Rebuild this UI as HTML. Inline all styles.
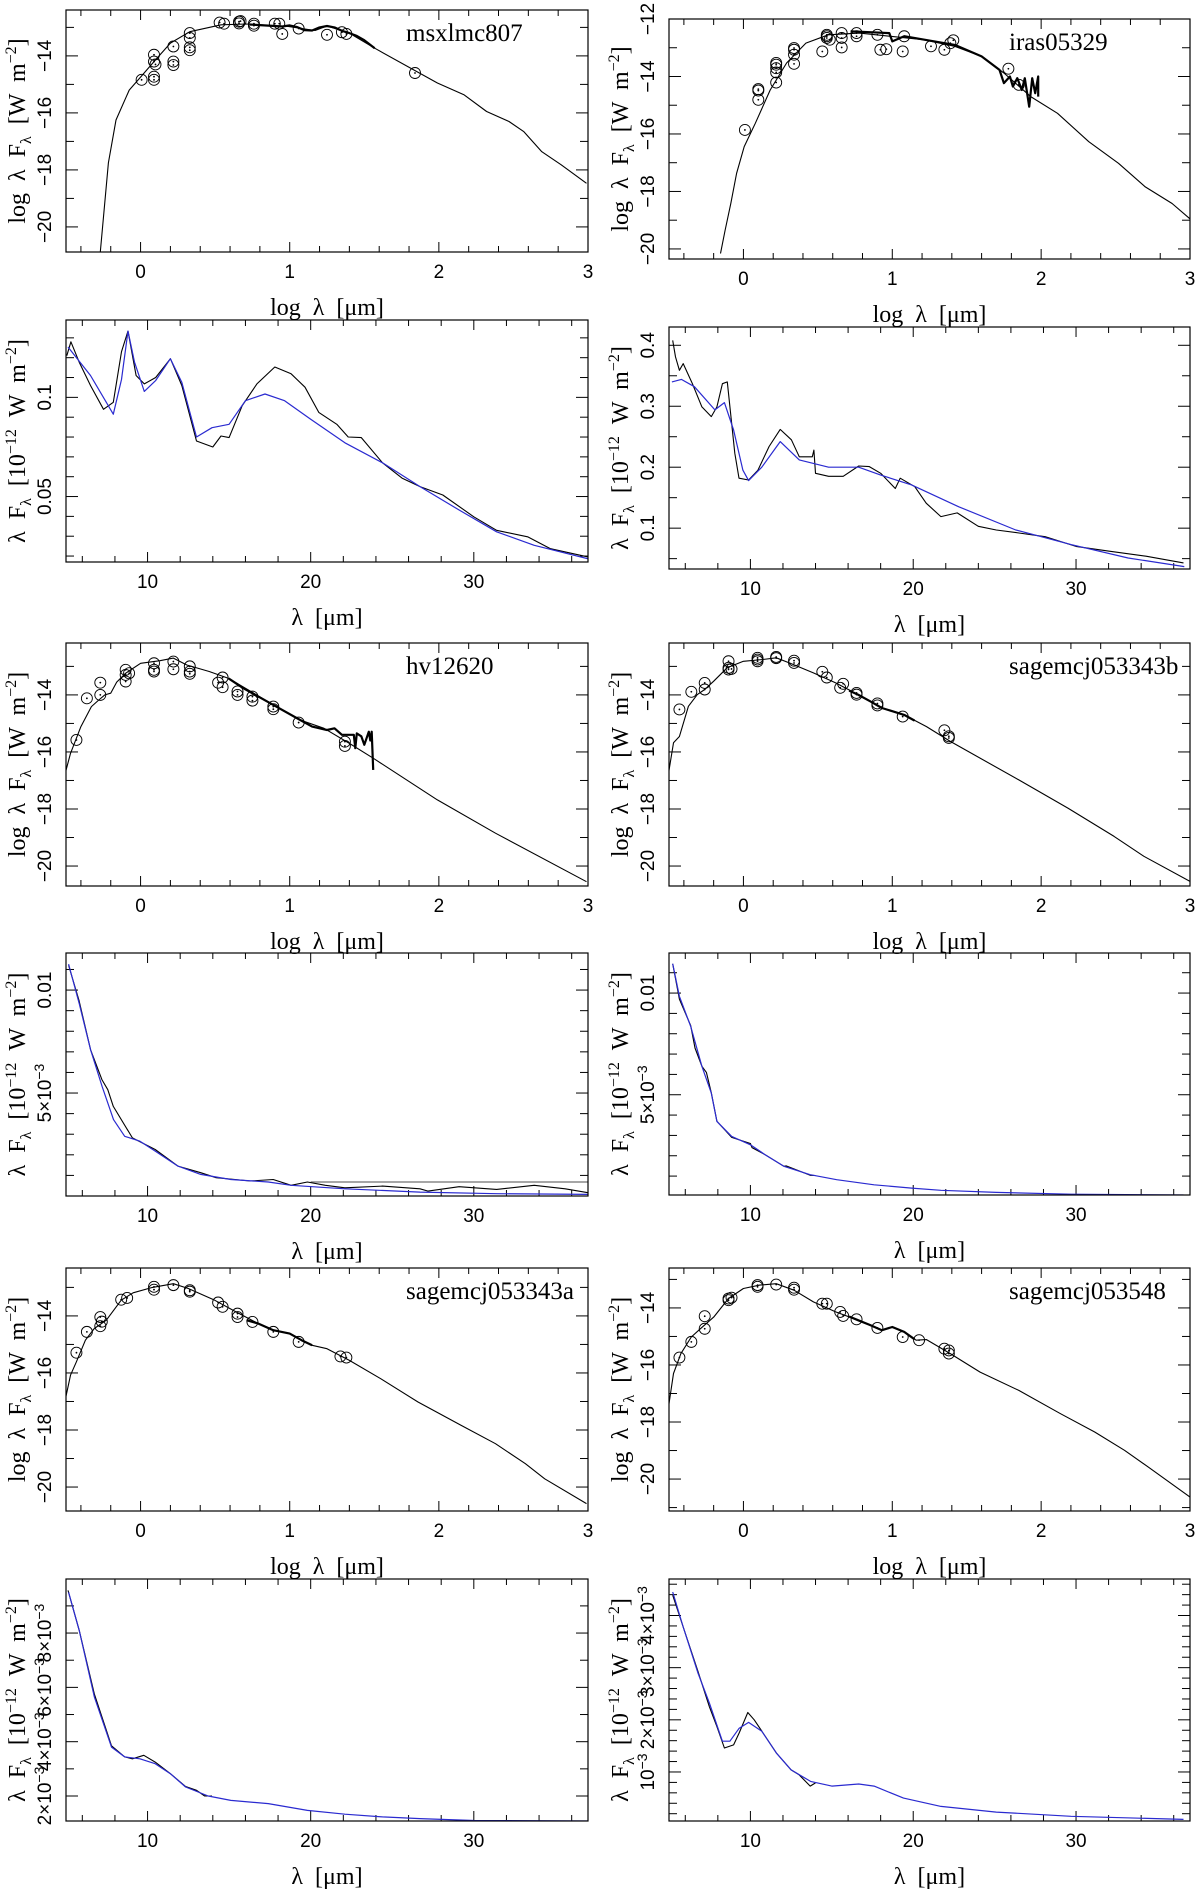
<!DOCTYPE html>
<html><head><meta charset="utf-8"><title>SED fits</title>
<style>
html,body{margin:0;padding:0;background:#fff;}
svg{display:block;}
text{fill:#000;}
.tk{font-family:"Liberation Sans",sans-serif;font-size:19px;}
.tt{font-family:"Liberation Serif",serif;font-size:24px;word-spacing:6px;}
.nm{font-family:"Liberation Serif",serif;font-size:25px;}
</style></head>
<body>
<svg id="fig" width="1200" height="1890" viewBox="0 0 1200 1890" xmlns="http://www.w3.org/2000/svg"></svg>
<script>
// ---------- Panel 1: msxlmc807 SED ----------
const p1ModelX=[-0.27,-0.216,-0.165,-0.076,0.004,0.10,0.20,0.33,0.54,0.71,0.99,1.17,1.25,1.40,1.57,1.99,2.17,2.32,2.47,2.57,2.69,2.82,2.99];
const p1ModelY=[-20.88,-17.75,-16.25,-15.2,-14.72,-14.14,-13.55,-13.15,-12.91,-12.88,-12.97,-13.11,-12.95,-13.2,-13.73,-14.95,-15.37,-15.95,-16.3,-16.66,-17.36,-17.82,-18.47];
const p1SpecX=[0.73,0.8,0.9,0.95,1.0,1.05,1.1,1.15,1.2,1.25,1.3,1.35,1.4,1.45,1.5,1.57];
const p1SpecY=[-12.9,-12.92,-12.95,-12.97,-12.93,-12.99,-13.1,-13.11,-13.0,-12.95,-13.0,-13.12,-13.2,-13.3,-13.45,-13.73];
const p1PtX=[0.007,0.09,0.09,0.09,0.09,0.10,0.22,0.22,0.22,0.33,0.33,0.33,0.33,0.53,0.56,0.66,0.66,0.67,0.76,0.76,0.90,0.93,0.95,1.06,1.25,1.35,1.38,1.84];
const p1PtY=[-14.84,-13.96,-14.2,-14.73,-14.84,-14.3,-13.67,-14.2,-14.32,-13.2,-13.37,-13.7,-13.8,-12.83,-12.87,-12.8,-12.86,-12.78,-12.87,-12.94,-12.87,-12.87,-13.23,-13.04,-13.26,-13.17,-13.23,-14.6];
// ---------- Panel 2: iras05329 SED ----------
const p2ModelX=[-0.154,-0.123,-0.085,-0.046,0.005,0.08,0.18,0.29,0.42,0.57,0.78,0.98,1.21,1.42,1.6,1.75,1.93,2.11,2.32,2.52,2.70,2.88,3.01];
const p2ModelY=[-20.16,-19.35,-18.42,-17.37,-16.44,-15.63,-14.47,-13.53,-12.84,-12.55,-12.49,-12.6,-12.72,-12.95,-13.3,-13.88,-14.7,-15.28,-16.27,-17.02,-17.84,-18.42,-19.0];
const p2SpecX=[0.72,0.85,0.98,1.0,1.08,1.24,1.42,1.6,1.72,1.75,1.79,1.81,1.84,1.87,1.89,1.92,1.94,1.96,1.98,1.98];
const p2SpecY=[-12.43,-12.46,-12.49,-12.78,-12.6,-12.74,-12.9,-13.3,-13.77,-14.23,-14.0,-14.35,-14.06,-14.47,-14.06,-15.05,-14.06,-14.58,-14.0,-14.7];
const p2PtX=[0.01,0.10,0.10,0.10,0.22,0.22,0.22,0.22,0.22,0.34,0.34,0.34,0.34,0.53,0.56,0.56,0.56,0.58,0.66,0.66,0.66,0.76,0.76,0.90,0.92,0.96,1.07,1.08,1.26,1.35,1.39,1.41,1.78,1.85];
const p2PtY=[-15.86,-14.44,-14.49,-14.81,-13.53,-13.59,-13.71,-13.86,-14.21,-13.01,-13.07,-13.24,-13.56,-13.13,-12.55,-12.6,-12.66,-12.72,-12.49,-12.66,-12.99,-12.49,-12.6,-12.55,-13.07,-13.05,-13.13,-12.6,-12.95,-13.07,-12.84,-12.74,-13.73,-14.29];
// ---------- Panel 3: msxlmc807 spectrum ----------
const p3ModelX=[5.12,6.5,7.9,8.4,8.8,9.2,9.8,10.5,11.4,12.1,13.0,13.95,15.0,16.0,17.2,18.4,20.0,22.1,24.4,26.7,29.1,31.4,33.7,37];
const p3ModelY=[0.1254,0.111,0.0915,0.109,0.1334,0.1178,0.103,0.1085,0.1195,0.1076,0.080,0.0847,0.0864,0.0983,0.1017,0.0983,0.089,0.0771,0.067,0.055,0.0432,0.0322,0.0254,0.0186];
const p3SpecX=[5.05,5.3,5.8,6.5,7.3,7.9,8.4,8.8,9.3,9.8,10.5,11.4,12.1,13.0,14.0,14.5,15.0,15.8,16.7,17.8,18.8,19.65,20.5,21.6,22.3,23.1,24.4,25.6,26.7,28.1,30,31.4,33.3,34.7,37];
const p3SpecY=[0.121,0.128,0.118,0.106,0.094,0.0975,0.123,0.1334,0.111,0.1068,0.110,0.1195,0.106,0.078,0.075,0.0805,0.0797,0.0958,0.1068,0.1153,0.1119,0.1051,0.0924,0.0864,0.080,0.0797,0.067,0.0593,0.055,0.0508,0.0398,0.033,0.0297,0.0237,0.0195];
// ---------- Panel 4: iras05329 spectrum ----------
const p4ModelX=[5.18,5.76,6.56,7.82,8.4,8.97,9.54,9.89,10.7,11.83,13.0,14.8,16.65,18.0,19.9,22.8,26.3,29.7,33.2,36.65];
const p4ModelY=[0.34,0.344,0.332,0.294,0.306,0.261,0.195,0.178,0.20,0.242,0.212,0.20,0.20,0.187,0.171,0.135,0.097,0.073,0.051,0.037];
const p4SpecX=[5.23,5.4,5.64,5.87,6.44,7.02,7.6,7.94,8.28,8.58,9.04,9.3,9.89,10.46,11.15,11.83,12.52,13.0,13.8,13.9,14.0,14.8,15.7,16.65,17.3,18.0,18.9,19.2,20.1,20.8,21.7,22.7,24.0,25.1,26.5,28.1,30,32.1,34.3,36.6];
const p4SpecY=[0.408,0.381,0.359,0.37,0.337,0.299,0.283,0.299,0.337,0.34,0.223,0.182,0.179,0.195,0.234,0.262,0.245,0.217,0.217,0.228,0.19,0.185,0.185,0.202,0.201,0.19,0.165,0.182,0.168,0.141,0.119,0.125,0.103,0.097,0.092,0.086,0.07,0.062,0.054,0.043];
// ---------- Panel 5: hv12620 SED ----------
const p5ModelX=[-0.52,-0.47,-0.40,-0.33,-0.28,-0.24,-0.2,-0.16,-0.10,0,0.13,0.22,0.31,0.46,0.59,0.74,0.89,1.07,1.23,1.40,1.56,1.99,2.38,2.99];
const p5ModelY=[-17.04,-16.05,-15.11,-14.41,-14.18,-14.0,-13.94,-13.55,-13.24,-12.89,-12.8,-12.71,-12.95,-13.18,-13.42,-13.88,-14.35,-14.88,-15.17,-15.7,-16.22,-17.68,-18.85,-20.55];
const p5SpecX=[0.59,0.69,0.89,1.07,1.15,1.25,1.3,1.35,1.43,1.44,1.45,1.48,1.5,1.53,1.54,1.55,1.56];
const p5SpecY=[-13.42,-13.77,-14.35,-14.88,-15.11,-15.23,-15.17,-15.4,-15.4,-15.87,-15.35,-15.45,-15.75,-15.29,-15.6,-15.29,-16.63];
const p5PtX=[-0.43,-0.36,-0.27,-0.27,-0.10,-0.10,-0.10,-0.077,0.09,0.09,0.09,0.22,0.22,0.33,0.33,0.33,0.52,0.55,0.55,0.65,0.65,0.75,0.75,0.89,0.89,1.06,1.37,1.37];
const p5PtY=[-15.58,-14.12,-13.57,-14.0,-13.12,-13.3,-13.53,-13.24,-12.89,-13.12,-13.18,-12.83,-13.1,-13.0,-13.18,-13.26,-13.57,-13.39,-13.73,-13.88,-14.0,-14.06,-14.2,-14.41,-14.5,-14.97,-15.64,-15.79];
// ---------- Panel 6: sagemcj053343b SED ----------
const p6ModelX=[-0.51,-0.47,-0.43,-0.37,-0.31,-0.26,-0.2,-0.11,0,0.13,0.22,0.31,0.47,0.62,0.77,0.93,1.08,1.23,1.39,1.85,2.18,2.49,2.69,3.0];
const p6ModelY=[-16.97,-15.68,-15.46,-14.4,-13.99,-13.81,-13.52,-13.05,-12.82,-12.76,-12.7,-12.88,-13.23,-13.58,-13.99,-14.46,-14.7,-15.11,-15.63,-16.98,-17.97,-18.96,-19.66,-20.54];
const p6SpecX=[0.71,0.77,0.85,0.93,1.0,1.08,1.15];
const p6SpecY=[-13.85,-13.99,-14.22,-14.46,-14.57,-14.7,-14.9];
const p6PtX=[-0.43,-0.35,-0.26,-0.26,-0.1,-0.1,-0.1,-0.08,0.095,0.095,0.095,0.22,0.22,0.34,0.34,0.53,0.56,0.65,0.67,0.76,0.76,0.9,0.9,1.07,1.35,1.38,1.38];
const p6PtY=[-14.51,-13.89,-13.58,-13.81,-12.82,-13.05,-13.11,-13.09,-12.7,-12.76,-12.82,-12.67,-12.71,-12.8,-12.88,-13.19,-13.39,-13.75,-13.61,-13.93,-13.99,-14.3,-14.37,-14.76,-15.24,-15.45,-15.51];
// ---------- Panel 7: hv12620 spectrum ----------
const p7ModelX=[5.16,5.81,6.51,7.21,7.91,8.6,9.53,10.47,11.86,13.26,15.1,17.4,18.8,22.1,26.7,31.4,37];
const p7ModelY=[0.01126,0.00935,0.0071,0.00532,0.00371,0.0029,0.00266,0.00218,0.00145,0.00105,0.0008,0.00068,0.00052,0.00035,0.00019,0.00011,0.00008];
const p7SpecX=[5.16,5.8,6.51,7.2,7.56,7.9,9.07,10.47,11.86,13.26,14.2,16.3,17.7,18.8,19.8,20.9,22.1,24.4,26.7,27.2,29.1,31.4,33.7,35.6,37];
const p7SpecY=[0.0112,0.0095,0.0071,0.00565,0.00516,0.00435,0.00282,0.00226,0.00145,0.00113,0.00089,0.00073,0.0008,0.00052,0.00068,0.00052,0.0004,0.00048,0.00035,0.00024,0.00045,0.00032,0.00052,0.00035,0.00016];
const p7RefX=[20,37];
const p7RefY=[0.00068,0.00068];
// ---------- Panel 8: sagemcj053343b spectrum ----------
const p8ModelX=[5.23,5.64,6.33,7.02,7.6,7.94,8.85,10,10.9,12.06,13.67,15.3,17.6,19.9,21.7,25.1,29.7,36.6];
const p8ModelY=[0.01144,0.00984,0.00836,0.0064,0.00508,0.00369,0.00295,0.00254,0.00205,0.00148,0.00107,0.00082,0.00057,0.00041,0.0003,0.0002,0.00011,0.00007];
const p8SpecX=[5.23,5.64,6.33,6.6,7.02,7.3,7.6,7.94,8.85,10,10.1,10.9,12.06,12.2,13.67,14.0];
const p8SpecY=[0.01144,0.0097,0.0084,0.0073,0.0064,0.0061,0.0051,0.0037,0.0029,0.0026,0.0024,0.00205,0.00148,0.0015,0.00104,0.00103];
// ---------- Panel 9: sagemcj053343a SED ----------
const p9ModelX=[-0.52,-0.47,-0.43,-0.37,-0.31,-0.23,-0.13,-0.05,0.08,0.22,0.32,0.49,0.64,0.79,0.89,1.0,1.15,1.25,1.4,1.61,1.86,2.15,2.38,2.58,2.71,2.99];
const p9ModelY=[-17.31,-16.08,-15.61,-14.85,-14.44,-14.15,-13.45,-13.19,-13.0,-12.87,-13.04,-13.43,-13.86,-14.27,-14.5,-14.62,-15.03,-15.15,-15.56,-16.2,-17.02,-17.84,-18.48,-19.18,-19.71,-20.58];
const p9SpecX=[0.71,0.79,0.89,1.0,1.08,1.15];
const p9SpecY=[-14.15,-14.27,-14.5,-14.62,-14.85,-15.03];
const p9PtX=[-0.43,-0.36,-0.27,-0.27,-0.26,-0.13,-0.09,0.09,0.09,0.22,0.33,0.33,0.52,0.55,0.65,0.65,0.75,0.89,1.06,1.34,1.38];
const p9PtY=[-15.29,-14.56,-14.04,-14.36,-14.2,-13.43,-13.37,-12.98,-13.08,-12.92,-13.1,-13.15,-13.53,-13.68,-13.92,-14.04,-14.21,-14.56,-14.91,-15.42,-15.46];
// ---------- Panel 10: sagemcj053548 SED ----------
const p10ModelX=[-0.51,-0.47,-0.42,-0.35,-0.29,-0.2,-0.1,0,0.11,0.22,0.34,0.47,0.62,0.77,0.93,1.0,1.08,1.16,1.23,1.39,1.59,1.85,2.13,2.36,2.56,2.72,3.0];
const p10ModelY=[-17.71,-16.3,-15.6,-15.02,-14.73,-14.32,-13.67,-13.32,-13.2,-13.15,-13.38,-13.79,-14.14,-14.43,-14.78,-14.67,-14.84,-15.13,-15.11,-15.6,-16.25,-16.89,-17.71,-18.35,-18.99,-19.58,-20.63];
const p10SpecX=[0.71,0.77,0.85,0.93,1.0,1.08,1.15];
const p10SpecY=[-14.3,-14.43,-14.6,-14.78,-14.67,-14.84,-15.1];
const p10PtX=[-0.43,-0.35,-0.26,-0.26,-0.1,-0.1,-0.08,0.095,0.095,0.22,0.34,0.34,0.53,0.56,0.65,0.67,0.76,0.9,1.07,1.18,1.35,1.38,1.38];
const p10PtY=[-15.74,-15.19,-14.29,-14.73,-13.67,-13.73,-13.64,-13.2,-13.26,-13.18,-13.29,-13.36,-13.85,-13.85,-14.14,-14.28,-14.4,-14.7,-15.02,-15.13,-15.43,-15.49,-15.6];
// ---------- Panel 11: sagemcj053343a spectrum ----------
const p11ModelX=[5.16,5.81,6.74,7.79,8.6,9.53,10.47,11.4,12.33,13.72,15.1,17.4,19.8,22.1,24.4,26.7,30,37];
const p11ModelY=[0.0095,0.0081,0.00564,0.0038,0.00344,0.00337,0.00319,0.00282,0.00233,0.002,0.00184,0.00172,0.00147,0.00133,0.00123,0.00117,0.0011,0.00108];
const p11SpecX=[5.12,5.81,6.74,7.79,8.6,9.07,9.77,10.47,11.4,12.33,13.0,13.5,13.95];
const p11SpecY=[0.00957,0.0081,0.00575,0.00385,0.00344,0.00337,0.0035,0.00325,0.00282,0.00235,0.00221,0.002,0.002];
// ---------- Panel 12: sagemcj053548 spectrum ----------
const p12ModelX=[5.23,5.87,6.79,7.48,8.28,8.74,9.31,9.89,10.7,11.6,12.5,13.7,15.0,16.65,17.6,19.4,21.7,25.1,29.7,36.6];
const p12ModelY=[0.00445,0.00378,0.00289,0.00232,0.00159,0.00159,0.00184,0.00195,0.00178,0.00136,0.00104,0.00082,0.00073,0.00077,0.00073,0.0005,0.00034,0.00023,0.00015,0.00009];
const p12SpecX=[5.23,5.87,6.79,7.48,7.94,8.4,8.97,9.31,9.84,10.23,10.92,11.6,12.5,12.98,13.67,14.0];
const p12SpecY=[0.00439,0.00378,0.00292,0.00225,0.00187,0.00146,0.00152,0.00175,0.00214,0.002,0.00168,0.00136,0.00104,0.00095,0.00073,0.00079];
// ---------- axis tick values ----------
const sedXTicks=[0,1,2,3];
const sedYTicks=[-20,-18,-16,-14,-12];
const specXTicks=[10,20,30];
const p3YTicks=[0.05,0.1];
const p4YTicks=[0.1,0.2,0.3,0.4];
const p7YTicks=[0.005,0.01];
const p7YLabels=["5×10|−3","0.01"];
const p11YTicks=[0.002,0.004,0.006,0.008];
const p11YLabels=["2×10|−3","4×10|−3","6×10|−3","8×10|−3"];
const p12YTicks=[0.001,0.002,0.003,0.004];
const p12YLabels=["10|−3","2×10|−3","3×10|−3","4×10|−3"];

const NS="http://www.w3.org/2000/svg";
const svg=document.getElementById('fig');
function el(tag,attrs,parent){const e=document.createElementNS(NS,tag);for(const k in attrs)e.setAttribute(k,attrs[k]);(parent||svg).appendChild(e);return e;}

const COLS=[{x0:66,x1:588},{x0:669,x1:1190}];
let clipN=0;

function drawPanel(cfg){
  const c=COLS[cfg.col];
  const g=el('g',{});
  
  
  const sx=v=>c.x0+(v-cfg.xmin)/(cfg.xmax-cfg.xmin)*(c.x1-c.x0);
  const sy=v=>cfg.bot-(v-cfg.ymin)/(cfg.ymax-cfg.ymin)*(cfg.bot-cfg.top);
  const cid='clip'+(clipN++);
  const cp=el('clipPath',{id:cid},g);
  el('rect',{x:c.x0,y:cfg.top,width:c.x1-c.x0,height:cfg.bot-cfg.top},cp);
  const tg=el('g',{stroke:'#000','stroke-width':1},g);
  
  
  const xs=Math.ceil(cfg.xmin/cfg.xminor-1e-9);
  for(let i=xs;i*cfg.xminor<=cfg.xmax+1e-9;i++){
    const v=i*cfg.xminor;const major=Math.abs(v/cfg.xmajor-Math.round(v/cfg.xmajor))<1e-6;
    const L=major?10:6;const X=sx(v);
    el('line',{x1:X,x2:X,y1:cfg.bot,y2:cfg.bot-L},tg);
    el('line',{x1:X,x2:X,y1:cfg.top,y2:cfg.top+L},tg);
  }
  const ys=Math.ceil(cfg.ymin/cfg.yminor-1e-9);
  for(let i=ys;i*cfg.yminor<=cfg.ymax+1e-9;i++){
    const v=i*cfg.yminor;const major=cfg.yticks.some(t=>Math.abs(t-v)<cfg.yminor*0.01);
    const L=major?12:8;const Y=sy(v);
    el('line',{x1:c.x0,x2:c.x0+L,y1:Y,y2:Y},tg);
    el('line',{x1:c.x1,x2:c.x1-L,y1:Y,y2:Y},tg);
  }
  const cg=el('g',{'clip-path':'url(#'+cid+')',fill:'none'},g);
  function line(xa,ya,name,stroke,w){
    let d='';for(let i=0;i<xa.length;i++)d+=(i?'L':'M')+sx(xa[i]).toFixed(1)+','+sy(ya[i]).toFixed(1);
    const p=el('path',{d:d,stroke:stroke,'stroke-width':w,'stroke-linejoin':'round'},cg);
    
    
  }
  if(cfg.refX) line(cfg.refX,cfg.refY,'reference-line','#888',1.5);
  if(cfg.type==='sed'){
    line(cfg.modelX,cfg.modelY,'model-sed-curve','#000',1.1);
    line(cfg.specX,cfg.specY,'observed-spectrum','#000',2.2);
  } else {
    line(cfg.specX,cfg.specY,'observed-spectrum','#000',1.1);
    line(cfg.modelX,cfg.modelY,'model-spectrum','#2a2ad0',1.2);
  }
  if(cfg.ptX){
    for(let i=0;i<cfg.ptX.length;i++){
      const cx=sx(cfg.ptX[i]),cy=sy(cfg.ptY[i]);
      const ci=el('circle',{cx:cx,cy:cy,r:5.5,fill:'none',stroke:'#000','stroke-width':0.9},cg);
      
      
      el('circle',{cx:cx,cy:cy,r:0.9,fill:'#000'},cg);
    }
  }
  const fr=el('rect',{x:c.x0,y:cfg.top,width:c.x1-c.x0,height:cfg.bot-cfg.top,fill:'none',stroke:'#000','stroke-width':1.2},g);
  
  
  for(const v of cfg.xticks){
    const t=el('text',{x:sx(v),y:cfg.bot+26,'text-anchor':'middle',class:'tk'},g);
    t.textContent=String(v);
    
    
  }
  cfg.yticks.forEach((v,i)=>{
    const Y=sy(v),X=c.x0-15;
    const t=el('text',{x:X,y:Y,'text-anchor':'middle',class:'tk',transform:'rotate(-90 '+X+' '+Y+')'},g);
    
    
    const lab=cfg.ylabels?cfg.ylabels[i]:(v<0?'−'+(-v):String(v));
    if(lab.indexOf('|')>=0){
      const [a,b]=lab.split('|');
      const s1=el('tspan',{},t);s1.textContent=a;
      const s2=el('tspan',{dy:-7,'font-size':14},t);s2.textContent=b;
    } else t.textContent=lab;
  });
  const xt=el('text',{x:(c.x0+c.x1)/2,y:cfg.bot+63,'text-anchor':'middle',class:'tt'},g);
  
  
  if(cfg.type==='sed'){xt.textContent='log λ [μm]';} else {xt.textContent='λ [μm]';}
  const YX=c.x0-41,YC=(cfg.top+cfg.bot)/2;
  const yt=el('text',{x:YX,y:YC,'text-anchor':'middle',class:'tt',transform:'rotate(-90 '+YX+' '+YC+')'},g);
  
  
  const parts=cfg.type==='sed'
    ? [['log λ F',0,24],['λ',6,16],[' [W m',-6,24],['−2',-9,16],[']',9,24]]
    : [['λ F',0,24],['λ',6,16],[' [10',-6,24],['−12',-9,16],[' W m',9,24],['−2',-9,16],[']',9,24]];
  for(const [s,dy,fs] of parts){const sp=el('tspan',{dy:dy,'font-size':fs},yt);sp.textContent=s;}
  if(cfg.name){
    const nm=el('text',{x:c.x0+340,y:cfg.top+31,class:'nm'},g);
    nm.textContent=cfg.name;
    
    
  }
}
const SED={type:'sed',xmin:-0.5,xmax:3,xminor:0.2,xmajor:1,xticks:sedXTicks,yminor:1};
const SPEC={type:'spec',xmin:5,xmax:37,xminor:2,xmajor:10,xticks:specXTicks};
function sedTicks(lo,hi){return sedYTicks.filter(t=>t>=lo-0.01&&t<=hi+0.01);}

drawPanel(Object.assign({},SED,{id:'panel-msxlmc807-sed',col:0,top:10,bot:252,ymin:-20.88,ymax:-12.39,yticks:sedTicks(-20.88,-12.39),name:'msxlmc807',modelX:p1ModelX,modelY:p1ModelY,specX:p1SpecX,specY:p1SpecY,ptX:p1PtX,ptY:p1PtY}));
drawPanel(Object.assign({},SED,{id:'panel-iras05329-sed',col:1,top:19,bot:259,ymin:-20.35,ymax:-12.0,yticks:sedTicks(-20.35,-12.0),name:'iras05329',modelX:p2ModelX,modelY:p2ModelY,specX:p2SpecX,specY:p2SpecY,ptX:p2PtX,ptY:p2PtY}));
drawPanel(Object.assign({},SPEC,{id:'panel-msxlmc807-spectrum',col:0,top:320,bot:562,ymin:0.017,ymax:0.139,yminor:0.01,yticks:p3YTicks,modelX:p3ModelX,modelY:p3ModelY,specX:p3SpecX,specY:p3SpecY}));
drawPanel(Object.assign({},SPEC,{id:'panel-iras05329-spectrum',col:1,top:327,bot:569,ymin:0.033,ymax:0.43,yminor:0.05,yticks:p4YTicks,modelX:p4ModelX,modelY:p4ModelY,specX:p4SpecX,specY:p4SpecY}));
drawPanel(Object.assign({},SED,{id:'panel-hv12620-sed',col:0,top:643,bot:886,ymin:-20.70,ymax:-12.18,yticks:sedTicks(-20.70,-12.18),name:'hv12620',modelX:p5ModelX,modelY:p5ModelY,specX:p5SpecX,specY:p5SpecY,ptX:p5PtX,ptY:p5PtY}));
drawPanel(Object.assign({},SED,{id:'panel-sagemcj053343b-sed',col:1,top:643,bot:886,ymin:-20.70,ymax:-12.18,yticks:sedTicks(-20.70,-12.18),name:'sagemcj053343b',modelX:p6ModelX,modelY:p6ModelY,specX:p6SpecX,specY:p6SpecY,ptX:p6PtX,ptY:p6PtY}));
drawPanel(Object.assign({},SPEC,{id:'panel-hv12620-spectrum',col:0,top:953,bot:1196,ymin:0,ymax:0.0118,yminor:0.001,yticks:p7YTicks,ylabels:p7YLabels,modelX:p7ModelX,modelY:p7ModelY,specX:p7SpecX,specY:p7SpecY,refX:p7RefX,refY:p7RefY}));
drawPanel(Object.assign({},SPEC,{id:'panel-sagemcj053343b-spectrum',col:1,top:953,bot:1195,ymin:0.00007,ymax:0.01197,yminor:0.001,yticks:p7YTicks,ylabels:p7YLabels,modelX:p8ModelX,modelY:p8ModelY,specX:p8SpecX,specY:p8SpecY}));
drawPanel(Object.assign({},SED,{id:'panel-sagemcj053343a-sed',col:0,top:1268,bot:1511,ymin:-20.84,ymax:-12.32,yticks:sedTicks(-20.84,-12.32),name:'sagemcj053343a',modelX:p9ModelX,modelY:p9ModelY,specX:p9SpecX,specY:p9SpecY,ptX:p9PtX,ptY:p9PtY}));
drawPanel(Object.assign({},SED,{id:'panel-sagemcj053548-sed',col:1,top:1268,bot:1511,ymin:-21.12,ymax:-12.6,yticks:sedTicks(-21.12,-12.6),name:'sagemcj053548',modelX:p10ModelX,modelY:p10ModelY,specX:p10SpecX,specY:p10SpecY,ptX:p10PtX,ptY:p10PtY}));
drawPanel(Object.assign({},SPEC,{id:'panel-sagemcj053343a-spectrum',col:0,top:1579,bot:1821,ymin:0.00108,ymax:0.00999,yminor:0.001,yticks:p11YTicks,ylabels:p11YLabels,modelX:p11ModelX,modelY:p11ModelY,specX:p11SpecX,specY:p11SpecY}));
drawPanel(Object.assign({},SPEC,{id:'panel-sagemcj053548-spectrum',col:1,top:1579,bot:1821,ymin:0.00006,ymax:0.0047,yminor:0.0002,yticks:p12YTicks,ylabels:p12YLabels,modelX:p12ModelX,modelY:p12ModelY,specX:p12SpecX,specY:p12SpecY}));
</script>
</body></html>
